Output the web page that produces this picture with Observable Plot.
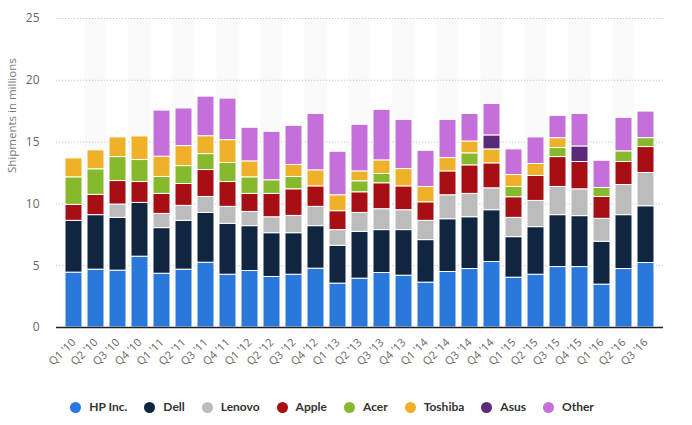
<!DOCTYPE html>
<html>
<head>
<meta charset="utf-8">
<script src="https://cdn.jsdelivr.net/npm/d3@7"></script>
<script src="https://cdn.jsdelivr.net/npm/@observablehq/plot@0.6"></script>
<style>
  body { margin: 0; background: #fff; font-family: "Open Sans", "DejaVu Sans", sans-serif; }
  #legend { display: flex; justify-content: center; gap: 17px; margin-top: 20px; padding-right: 28px;
    font-family: Lato, "Open Sans", sans-serif; font-weight: 700; font-size: 12px; color: #333; line-height: 14px; }
  #legend .item { display: flex; align-items: center; gap: 8px; }
  #legend .dot { width: 11px; height: 11px; border-radius: 50%; display: inline-block; }
</style>
</head>
<body>
<div id="chart"></div>
<div id="legend"></div>
<script>
const quarters = ["Q1 '10","Q2 '10","Q3 '10","Q4 '10","Q1 '11","Q2 '11","Q3 '11","Q4 '11","Q1 '12","Q2 '12","Q3 '12","Q4 '12","Q1 '13","Q2 '13","Q3 '13","Q4 '13","Q1 '14","Q2 '14","Q3 '14","Q4 '14","Q1 '15","Q2 '15","Q3 '15","Q4 '15","Q1 '16","Q2 '16","Q3 '16"];
const vendors = ["HP Inc.","Dell","Lenovo","Apple","Acer","Toshiba","Asus","Other"];
const colors = ["#2a78dc","#10253f","#bcbcbc","#a80f14","#86ba2c","#efb12a","#5b2a7a","#c46fda"];

const hp      = [4.44,4.68,4.60,5.73,4.35,4.68,5.24,4.27,4.57,4.09,4.27,4.76,3.55,3.95,4.41,4.19,3.63,4.49,4.73,5.30,4.03,4.27,4.89,4.89,3.47,4.73,5.22];
const dell    = [4.19,4.41,4.27,4.35,3.69,3.95,4.03,4.12,3.63,3.54,3.36,3.44,3.06,3.79,3.47,3.69,3.44,4.27,4.19,4.19,3.28,3.85,4.20,4.12,3.47,4.36,4.59];
const lenovo  = [0,0,1.08,0,1.15,1.21,1.29,1.37,1.15,1.29,1.40,1.56,1.27,1.53,1.69,1.61,1.56,1.94,1.89,1.77,1.56,2.12,2.28,2.17,1.85,2.44,2.69];
const apple   = [1.29,1.64,1.90,1.69,1.62,1.77,2.18,2.01,1.46,1.89,2.15,1.66,1.53,1.67,2.10,1.93,1.50,1.93,2.31,2.02,1.67,2.02,2.42,2.21,1.77,1.86,2.10];
const acer    = [2.23,2.07,1.94,1.78,1.37,1.45,1.29,1.54,1.34,1.10,1.00,0,0,0.89,0.75,0,0,0,0.97,0,0.83,0,0.73,0,0.73,0.86,0.72];
const toshiba = [1.53,1.53,1.59,1.91,1.64,1.62,1.45,1.85,1.29,0,0.97,1.30,1.29,0.80,1.10,1.40,1.24,1.08,0.96,1.13,0.97,0.97,0.80,0,0,0,0];
const asus    = [0,0,0,0,0,0,0,0,0,0,0,0,0,0,0,0,0,0,0,1.13,0,0,0,1.26,0,0,0];
const other   = [0,0,0,0,3.73,3.04,3.20,3.36,2.72,3.92,3.17,4.56,3.52,3.77,4.09,3.98,2.93,3.09,2.23,2.55,2.07,2.15,1.80,2.63,2.20,2.71,2.15];
const yTicks = [0,5,10,15,20,25];
const yLabel = "Shipments in millions";

const series = [hp,dell,lenovo,apple,acer,toshiba,asus,other];
const rows = [];
series.forEach((vals, si) => vals.forEach((v, qi) => {
  if (v > 0) rows.push({quarter: quarters[qi], vendor: vendors[si], value: v});
}));
const bands = quarters.filter((q, i) => i % 2 === 1);

const pI = 0.23, pO = 0.13;
const step = (663 - 56) / (quarters.length - pI + 2 * pO);
const halfGap = step * pI / 2;

const chart = Plot.plot({
  width: 692,
  height: 380,
  marginLeft: 56,
  marginRight: 29,
  marginTop: 18,
  marginBottom: 53,
  style: {fontFamily: "'Open Sans', 'DejaVu Sans', sans-serif", fontSize: "11px", color: "#666", background: "#fff"},
  x: {domain: quarters, paddingInner: pI, paddingOuter: pO, label: null},
  y: {domain: [0, 25], label: null},
  color: {domain: vendors, range: colors},
  marks: [
    Plot.barY(bands, {x: d => d, y1: 0, y2: 25, fill: "#fafafa", insetLeft: -halfGap, insetRight: -halfGap}),
    Plot.ruleY(yTicks.filter(t => t > 0), {stroke: "#c8c8c8", strokeDasharray: "1.2,1.8", strokeWidth: 1}),
    Plot.barY(rows, Plot.stackY({order: vendors, x: "quarter", y: "value", fill: "vendor", stroke: "white", strokeWidth: 1})),
    Plot.ruleY([0], {stroke: "#222", strokeWidth: 1.6}),
    Plot.axisY({ticks: yTicks, tickSize: 0, tickPadding: 17, label: null, fill: "#666", fontSize: 12}),
    Plot.axisX({tickSize: 0, tickRotate: -45, tickPadding: 13, label: null, fill: "#666", fontSize: 11}),
    Plot.text([yLabel], {frameAnchor: "left", rotate: -90, dx: -44, fill: "#777", fontSize: 11.5})
  ]
});
document.getElementById("chart").appendChild(chart);

const legend = document.getElementById("legend");
vendors.forEach((v, i) => {
  const item = document.createElement("span");
  item.className = "item";
  const dot = document.createElement("span");
  dot.className = "dot";
  dot.style.background = colors[i];
  item.appendChild(dot);
  item.appendChild(document.createTextNode(v));
  legend.appendChild(item);
});
</script>
</body>
</html>
